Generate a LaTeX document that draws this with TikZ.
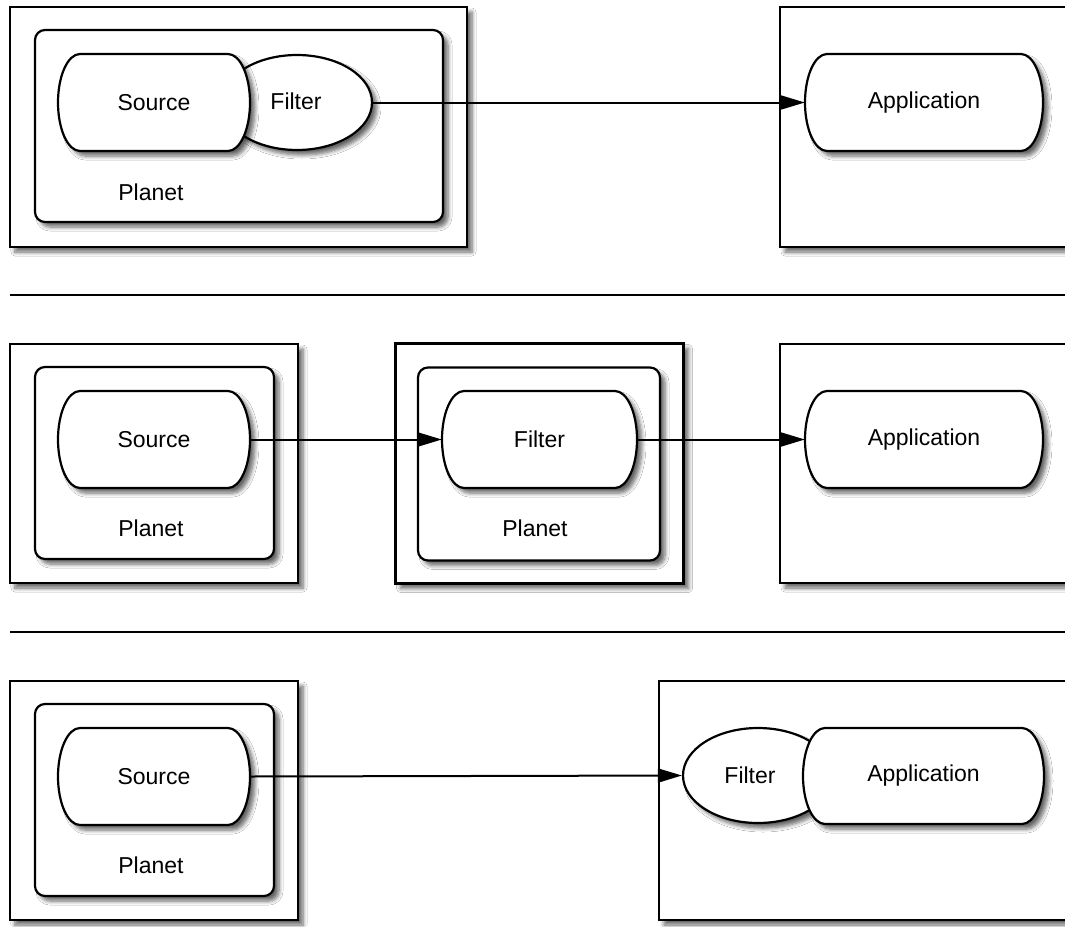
\documentclass[tikz,border=0pt]{standalone}
\usepackage{fontspec}
\setmainfont{Liberation Sans}
\usetikzlibrary{arrows.meta,shapes.geometric,shadows.blur}
\tikzset{
  shad/.style={blur shadow={shadow xshift=5pt,shadow yshift=-5pt,shadow blur radius=4pt,shadow blur steps=6,shadow opacity=60}},
  outerbox/.style={draw=black,line width=2.2pt,fill=white,shad,rectangle,inner sep=0pt},
  planetbox/.style={draw=black,line width=2.2pt,fill=white,shad,rectangle,rounded corners=10pt,inner sep=0pt},
  capshape/.style={draw=black,line width=2.2pt,fill=white,shad},
  capbase/.style={rectangle,draw=none,inner sep=0pt},
  filterell/.style={ellipse,draw=black,line width=2.2pt,fill=white,shad,inner sep=0pt,minimum width=150pt,minimum height=95pt},
  lbl/.style={font=\fontsize{23}{27}\selectfont,inner sep=0pt},
  conn/.style={draw=black,line width=2pt,-{Triangle[length=24pt,width=14pt,fill=black]}},
  sep/.style={draw=black,line width=2pt}
}
% name, x0, y0, x1, y1, text
\newcommand{\capsulenode}[6]{%
  \path[capshape] ({#2+22},#3) -- ({#4-22},#3)
    arc[start angle=-90,end angle=90,x radius=22,y radius={(#5-#3)/2}]
    -- ({#2+22},#5)
    arc[start angle=90,end angle=270,x radius=22,y radius={(#5-#3)/2}] -- cycle;
  \node[capbase,lbl,minimum width={#4-#2},minimum height={#5-#3}] (#1) at ({(#2+#4)/2},{(#3+#5)/2}) {#6};
}
\begin{document}
\begin{tikzpicture}[x=1pt,y=-1pt]
\clip (0,0) rectangle (1065,926);
\fill[white] (0,0) rectangle (1065,926);

% ---------------- Row 1 ----------------
\node[outerbox,minimum width=457,minimum height=240] (o1) at (238.5,127) {};
\node[planetbox,minimum width=408,minimum height=192] (p1) at (239,126) {};
\node[lbl] (pl1) at (151,192) {Planet};
\node[filterell] (f1) at (297,102.5) {};
\node[lbl] (f1t) at (296,101) {Filter};
\capsulenode{s1}{58}{54}{250}{151}{Source}
\node[outerbox,minimum width=340,minimum height=240] (a1box) at (950,127) {};
\capsulenode{a1}{805}{54}{1043}{151}{Application}
\draw[conn] (f1.east) -- (a1.west);

\draw[sep] (10,295) coordinate (l1a) -- (1070,295) coordinate (l1b);

% ---------------- Row 2 ----------------
\node[outerbox,minimum width=288,minimum height=239] (o2) at (154,463.5) {};
\node[planetbox,minimum width=239,minimum height=192] (p2) at (154.5,463) {};
\capsulenode{s2}{58}{391}{250}{488}{Source}
\node[lbl] (pl2) at (151,528) {Planet};

\node[outerbox,minimum width=288,minimum height=240] (o3) at (539.5,463.5) {};
\node[planetbox,minimum width=242,minimum height=193] (p3) at (539,464) {};
\capsulenode{f2}{442}{391}{637}{488}{Filter}
\node[lbl] (pl3) at (535,528) {Planet};

\node[outerbox,minimum width=340,minimum height=239] (a2box) at (950,463.5) {};
\capsulenode{a2}{805}{391}{1043}{488}{Application}
\draw[conn] (s2.east) -- (f2.west);
\draw[conn] (f2.east) -- (a2.west);

\draw[sep] (10,632) coordinate (l2a) -- (1070,632) coordinate (l2b);

% ---------------- Row 3 ----------------
\node[outerbox,minimum width=288,minimum height=239] (o4) at (154,800.5) {};
\node[planetbox,minimum width=239,minimum height=192] (p4) at (154.5,800) {};
\capsulenode{s3}{58}{728}{250}{825}{Source}
\node[lbl] (pl4) at (151,865) {Planet};

\node[outerbox,minimum width=440,minimum height=239] (a3box) at (879,800.5) {};
\node[filterell] (f3) at (758,775.5) {};
\node[lbl] (f3t) at (750,775) {Filter};
\capsulenode{a3}{803}{728}{1044}{824}{Application}
\draw[conn] (s3.east) -- (f3.west);
\end{tikzpicture}
\end{document}
